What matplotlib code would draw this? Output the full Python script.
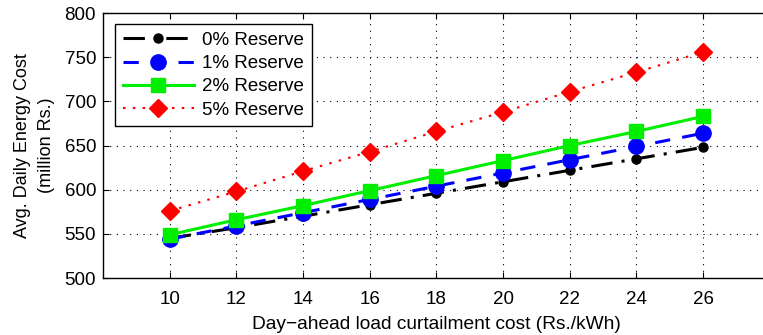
import matplotlib
matplotlib.use("Agg")
import matplotlib.pyplot as plt

plt.rcParams['font.family'] = ['Liberation Sans', 'DejaVu Sans']

cost = [10, 12, 14, 16, 18, 20, 22, 24, 26]
res0 = [545, 557, 570, 583, 596, 609, 622, 635, 648]
res1 = [544, 559, 574, 589, 604, 619, 634, 649, 664]
res2 = [549, 566, 582, 599, 616, 633, 650, 666, 683]
res5 = [576, 598, 621, 643, 666, 688, 711, 733, 756]
labels = ['0% Reserve', '1% Reserve', '2% Reserve', '5% Reserve']
xticks = [10, 12, 14, 16, 18, 20, 22, 24, 26]
yticks = [500, 550, 600, 650, 700, 750, 800]

fig = plt.figure(figsize=(7.63, 3.35), dpi=100)
ax = fig.add_axes([0.135, 0.170, 0.874, 0.791])

ax.plot(cost, res0, color='black', linestyle='-.', linewidth=2.2, marker='o',
        markersize=6.5, label=labels[0], dashes=(7, 3, 1, 3))
ax.plot(cost, res1, color='blue', linestyle='--', linewidth=2.2, marker='o',
        markersize=11, label=labels[1], dashes=(5, 4))
ax.plot(cost, res2, color='#00ee00', linestyle='-', linewidth=2.2, marker='s',
        markersize=9.5, label=labels[2])
ax.plot(cost, res5, color='red', linestyle=':', linewidth=1.5, marker='D',
        markersize=9, label=labels[3], dashes=(1.2, 3.5))

ax.set_xlim(8, 28)
ax.set_ylim(500, 800)
ax.set_xticks(xticks)
ax.set_yticks(yticks)
ax.tick_params(direction='in', labelsize=13.5, top=True, right=True, length=4)
ax.tick_params(axis='x', pad=9)
ax.tick_params(axis='y', pad=5)
ax.grid(True, linestyle=(0, (1, 5)), color='black', linewidth=0.8)
for s in ax.spines.values():
    s.set_linewidth(1.0)

ax.set_xlabel('Day\u2212ahead load curtailment cost (Rs./kWh)', fontsize=13.8, labelpad=6)
ax.set_ylabel('Avg. Daily Energy Cost\n(million Rs.)', fontsize=13, labelpad=7,
              linespacing=1.55)

leg = ax.legend(loc='upper left', bbox_to_anchor=(0.018, 0.958), borderaxespad=0,
                fontsize=13.5, frameon=True, fancybox=False, edgecolor='black',
                framealpha=1, handlelength=3.8, borderpad=0.4, labelspacing=0.33,
                handletextpad=0.45)
leg.get_frame().set_linewidth(1.0)

fig.savefig('out.png', dpi=100)
